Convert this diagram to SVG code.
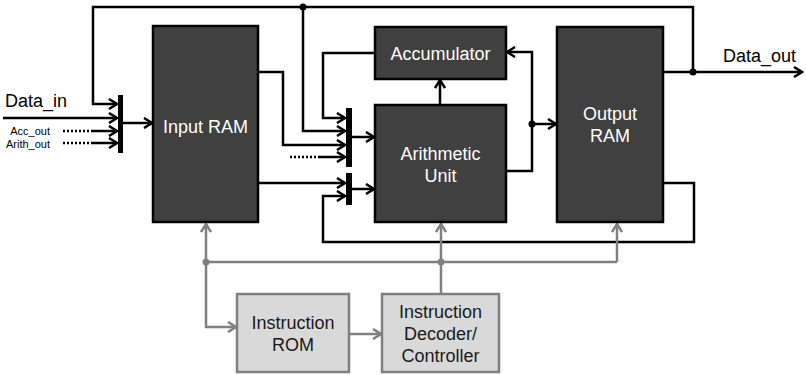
<svg xmlns="http://www.w3.org/2000/svg" width="806" height="375" viewBox="0 0 806 375">
<defs>
<style>
.blk{fill:#404040;stroke:#000;stroke-width:2.5}
.ctl{fill:#d9d9d9;stroke:#808080;stroke-width:2.5}
.w{fill:none;stroke:#000;stroke-width:2.5}
.d{fill:none;stroke:#000;stroke-width:2.5;stroke-dasharray:2 2}
.g{fill:none;stroke:#808080;stroke-width:2.5}
.bar{fill:#000}
.t{font-family:"Liberation Sans",Arial,sans-serif;font-size:18px;fill:#fff;text-anchor:middle}
.tc{font-family:"Liberation Sans",Arial,sans-serif;font-size:18px;fill:#1a1a1a;text-anchor:middle}
.tl{font-family:"Liberation Sans",Arial,sans-serif;font-size:18px;fill:#000}
.ts{font-family:"Liberation Sans",Arial,sans-serif;font-size:11px;fill:#000;text-anchor:end}
</style>
<marker id="a" viewBox="-10 -6 12 12" refX="0" refY="0" markerWidth="12" markerHeight="12" markerUnits="userSpaceOnUse" orient="auto">
<path d="M-8,-5 L0,0 L-8,5" fill="none" stroke="#000" stroke-width="2.5"/>
</marker>
<marker id="ag" viewBox="-10 -6 12 12" refX="0" refY="0" markerWidth="12" markerHeight="12" markerUnits="userSpaceOnUse" orient="auto">
<path d="M-8,-5 L0,0 L-8,5" fill="none" stroke="#808080" stroke-width="2.5"/>
</marker>
</defs>
<rect width="806" height="375" fill="#fff"/>

<g id="connectors">
<!-- top feedback loop -->
<polyline class="w" points="693,72 693,7 93,7 93,104 117,104" marker-end="url(#a)"/>
<line class="w" x1="663" y1="72" x2="802" y2="72" marker-end="url(#a)"/>
<circle cx="693" cy="72" r="3.5" fill="#000"/>
<circle cx="303" cy="7" r="3.5" fill="#000"/>
<!-- mux 1 inputs -->
<line class="w" x1="3" y1="118" x2="117" y2="118" marker-end="url(#a)"/>
<line class="d" x1="63" y1="131" x2="93" y2="131"/>
<line class="w" x1="93" y1="131" x2="117" y2="131" marker-end="url(#a)"/>
<line class="d" x1="63" y1="143" x2="93" y2="143"/>
<line class="w" x1="93" y1="143" x2="117" y2="143" marker-end="url(#a)"/>
<line class="w" x1="123" y1="123" x2="152" y2="123" marker-end="url(#a)"/>
<rect class="bar" x="118" y="95" width="5" height="58"/>
<!-- mux 2 inputs -->
<polyline class="w" points="375,53 323,53 323,118 345,118" marker-end="url(#a)"/>
<polyline class="w" points="303,7 303,131 345,131" marker-end="url(#a)"/>
<polyline class="w" points="258,72 283,72 283,145 345,145" marker-end="url(#a)"/>
<line class="d" x1="290" y1="157" x2="320" y2="157"/>
<line class="w" x1="320" y1="157" x2="345" y2="157" marker-end="url(#a)"/>
<line class="w" x1="352" y1="137" x2="374" y2="137" marker-end="url(#a)"/>
<rect class="bar" x="346" y="108" width="6" height="59"/>
<!-- mux 3 -->
<line class="w" x1="258" y1="183" x2="345" y2="183" marker-end="url(#a)"/>
<polyline class="w" points="663,183 694,183 694,242 323,242 323,196 345,196" marker-end="url(#a)"/>
<line class="w" x1="352" y1="189" x2="374" y2="189" marker-end="url(#a)"/>
<rect class="bar" x="346" y="173" width="6" height="32"/>
<!-- arithmetic unit outputs -->
<line class="w" x1="440" y1="105" x2="440" y2="80" marker-end="url(#a)"/>
<polyline class="w" points="506,171 532,171 532,52 507,52" marker-end="url(#a)"/>
<line class="w" x1="532" y1="124" x2="556" y2="124" marker-end="url(#a)"/>
<circle cx="532" cy="124" r="3.5" fill="#000"/>
<!-- control (gray) -->
<line class="g" x1="206" y1="262" x2="206" y2="224" marker-end="url(#ag)"/>
<line class="g" x1="206" y1="262" x2="617" y2="262"/>
<line class="g" x1="617" y1="262" x2="617" y2="224" marker-end="url(#ag)"/>
<line class="g" x1="441" y1="294" x2="441" y2="224" marker-end="url(#ag)"/>
<polyline class="g" points="206,262 206,327 236,327" marker-end="url(#ag)"/>
<line class="g" x1="349" y1="334" x2="381" y2="334" marker-end="url(#ag)"/>
<circle cx="206" cy="262" r="3.5" fill="#808080"/>
<circle cx="441" cy="262" r="3.5" fill="#808080"/>
</g>

<g id="labels">
<text class="tl" x="5" y="107">Data_in</text>
<text class="ts" x="50" y="135">Acc_out</text>
<text class="ts" x="50" y="148">Arith_out</text>
<text class="tl" x="723" y="62">Data_out</text>
</g>

<g id="input-ram">
<rect class="blk" x="153" y="26" width="105" height="196"/>
<text class="t" x="205.5" y="133">Input RAM</text>
</g>
<g id="accumulator">
<rect class="blk" x="375" y="27" width="131" height="52"/>
<text class="t" x="440.5" y="60">Accumulator</text>
</g>
<g id="arithmetic-unit">
<rect class="blk" x="375" y="105" width="131" height="117"/>
<text class="t" x="440.5" y="160">Arithmetic</text>
<text class="t" x="440.5" y="182">Unit</text>
</g>
<g id="output-ram">
<rect class="blk" x="557" y="27" width="106" height="195"/>
<text class="t" x="610" y="120">Output</text>
<text class="t" x="610" y="142">RAM</text>
</g>
<g id="instruction-rom">
<rect class="ctl" x="237" y="294" width="112" height="78"/>
<text class="tc" x="293" y="329">Instruction</text>
<text class="tc" x="293" y="351">ROM</text>
</g>
<g id="instruction-decoder">
<rect class="ctl" x="382" y="294" width="117" height="78"/>
<text class="tc" x="440.5" y="318">Instruction</text>
<text class="tc" x="440.5" y="340">Decoder/</text>
<text class="tc" x="440.5" y="362">Controller</text>
</g>
</svg>
